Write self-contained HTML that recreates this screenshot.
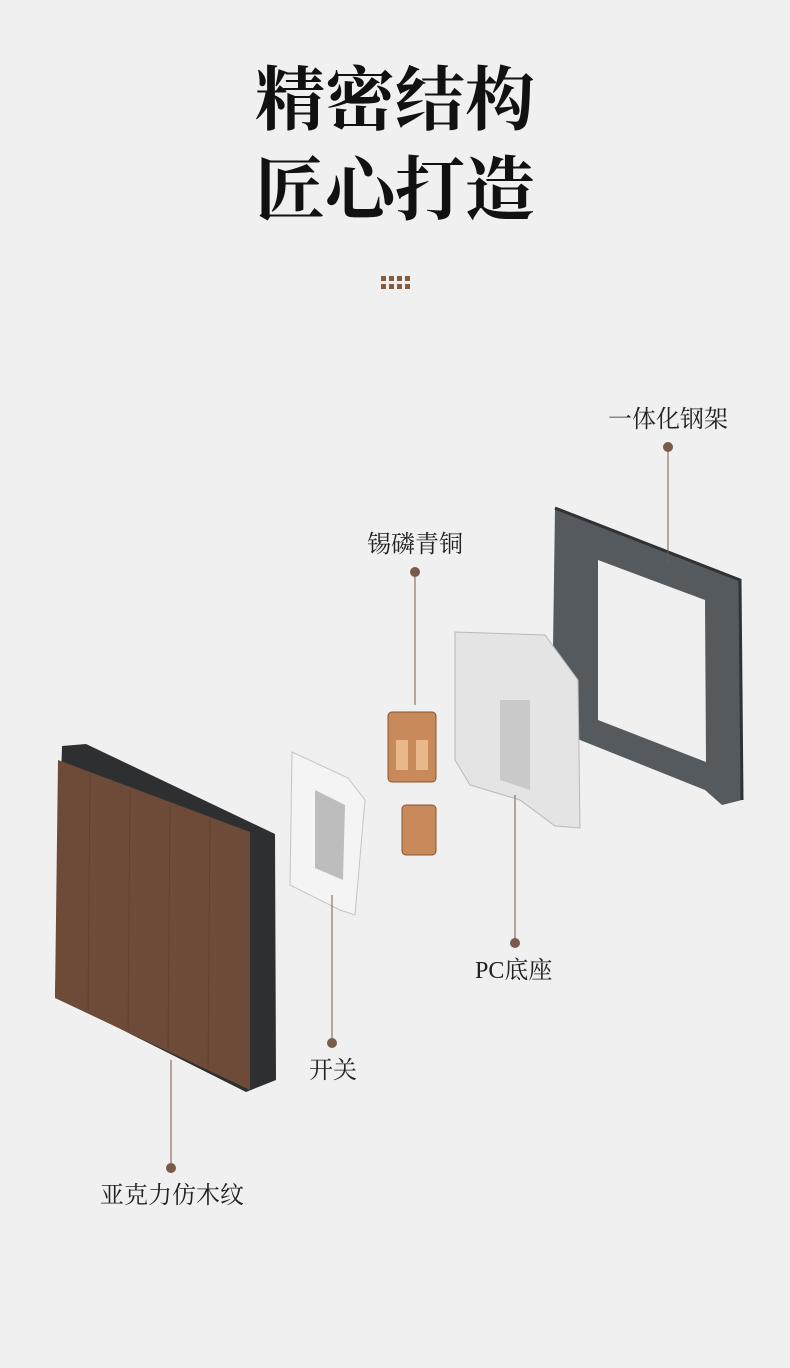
<!DOCTYPE html>
<html><head><meta charset="utf-8"><style>
body{margin:0;width:790px;height:1368px;background:#f0f0f0;position:relative;overflow:hidden;font-family:"Liberation Serif","Noto Serif CJK SC",serif}
.t{position:absolute;left:0;width:790px;text-align:center;font-size:70px;font-weight:700;color:#111;line-height:1}
.l{position:absolute;font-size:24px;color:#222;white-space:nowrap;line-height:1}
</style></head><body>
<div class="t" style="top:67px">精密结构</div>
<div class="t" style="top:157px">匠心打造</div>
<svg width="790" height="1368" style="position:absolute;left:0;top:0">
<g fill="#8a5a3c">
<rect x="381" y="276" width="5" height="5"/><rect x="389" y="276" width="5" height="5"/><rect x="397" y="276" width="5" height="5"/><rect x="405" y="276" width="5" height="5"/>
<rect x="381" y="284" width="5" height="5"/><rect x="389" y="284" width="5" height="5"/><rect x="397" y="284" width="5" height="5"/><rect x="405" y="284" width="5" height="5"/>
</g>
<path fill-rule="evenodd" fill="#555a5f" d="M555 508 L740 580 L742 800 L722 805 L705 790 L580 740 L552 718 Z M598 560 L705 600 L706 762 L598 720 Z"/>
<path fill="none" stroke="#2f3336" stroke-width="3" d="M555 508 L740 580 L742 800"/>
<path fill="#e4e4e4" stroke="#b8b8b8" d="M455 632 L545 635 L578 680 L580 828 L555 826 L520 800 L470 785 L455 760 Z"/>
<path fill="#c9c9c9" d="M500 700 L530 700 L530 790 L500 780 Z"/>
<g fill="#c88a5a" stroke="#8a5530">
<rect x="388" y="712" width="48" height="70" rx="4"/>
<rect x="402" y="805" width="34" height="50" rx="4"/>
</g>
<rect x="396" y="740" width="12" height="30" fill="#e8b88a"/>
<rect x="416" y="740" width="12" height="30" fill="#e8b88a"/>
<path fill="#f4f4f4" stroke="#c4c4c4" d="M292 752 L348 778 L365 800 L355 915 L340 910 L290 885 Z"/>
<path fill="#bdbdbd" d="M315 790 L345 805 L343 880 L315 868 Z"/>
<path fill="#2e2f31" d="M62 746 L86 744 L275 834 L276 1080 L246 1092 L55 996 Z"/>
<path fill="#6e4b38" d="M58 760 L250 832 L250 1090 L55 998 Z"/>
<g stroke="#5a3a2a" stroke-width="1" opacity=".6">
<line x1="90" y1="775" x2="88" y2="1010"/><line x1="130" y1="790" x2="128" y2="1030"/><line x1="170" y1="805" x2="168" y2="1050"/><line x1="210" y1="818" x2="208" y2="1070"/>
</g>
<g stroke="#7a5a48" stroke-width="1">
<line x1="668" y1="447" x2="668" y2="562"/>
<line x1="415" y1="572" x2="415" y2="705"/>
<line x1="515" y1="943" x2="515" y2="795"/>
<line x1="332" y1="1043" x2="332" y2="895"/>
<line x1="171" y1="1168" x2="171" y2="1060"/>
</g>
<g fill="#7a5a48">
<circle cx="668" cy="447" r="5"/><circle cx="415" cy="572" r="5"/><circle cx="515" cy="943" r="5"/><circle cx="332" cy="1043" r="5"/><circle cx="171" cy="1168" r="5"/>
</g>
</svg>
<div class="l" style="left:608px;top:408px">一体化钢架</div>
<div class="l" style="left:367px;top:533px">锡磷青铜</div>
<div class="l" style="left:475px;top:959px">PC底座</div>
<div class="l" style="left:309px;top:1059px">开关</div>
<div class="l" style="left:100px;top:1184px">亚克力仿木纹</div>
</body></html>
